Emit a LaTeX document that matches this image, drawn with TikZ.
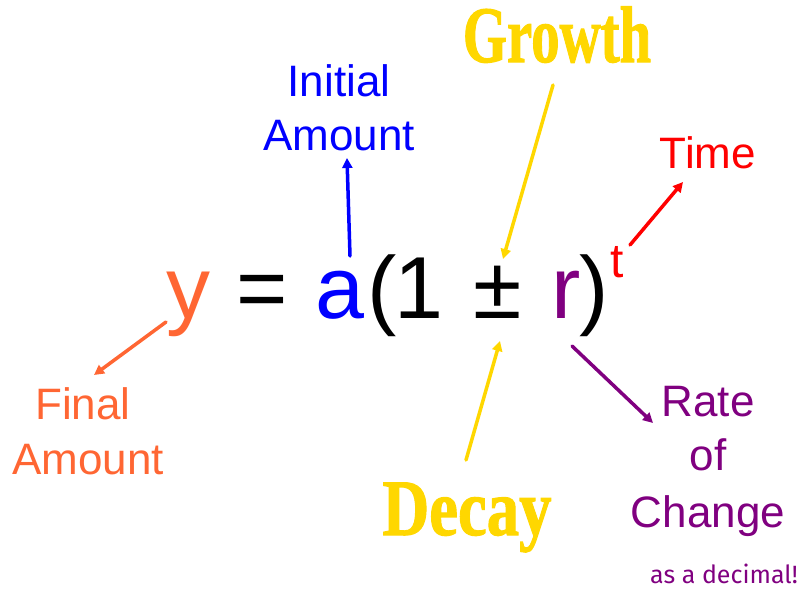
\documentclass[tikz,border=0pt]{standalone}
\usepackage{fontspec}
\setmainfont{Liberation Sans}
\newfontfamily\heavyserif[FakeBold=1.5]{Liberation Serif}
\newfontfamily\handfont{Fira Sans}
\usetikzlibrary{arrows.meta}
\definecolor{cOrange}{RGB}{255,102,51}
\definecolor{cBlue}{RGB}{0,0,255}
\definecolor{cRed}{RGB}{255,0,0}
\definecolor{cPurple}{RGB}{128,0,128}
\definecolor{cGold}{RGB}{255,215,0}
\tikzset{
  eq/.style={inner sep=0pt, anchor=base, font=\fontsize{88}{90}\selectfont},
  lbl/.style={inner sep=0pt, anchor=base, font=\fontsize{44}{50}\selectfont},
  big/.style={inner sep=0pt, anchor=base, font=\fontsize{80}{82}\selectfont\heavyserif\bfseries, text=cGold},
  arr/.style={line width=3.5pt, line cap=round, -{Triangle[length=10pt,width=10pt]}}
}
\begin{document}
\begin{tikzpicture}[x=1pt,y=-1pt]
\useasboundingbox (0,0) rectangle (802,589);
% equation
\node[eq, text=cOrange] (y) at (188,318) {y};
\node[eq] (eqs) at (262,318) {=};
\node[eq, text=cBlue] (a) at (340,318) {a};
\node[eq] (lp) at (382,318) {(};
\node[eq] (one) at (419,318) {1};
\node[eq] (pm) at (498,318) {±};
\node[eq, text=cPurple] (r) at (566,318) {r};
\node[eq] (rp) at (594,318) {)};
\node[inner sep=0pt, anchor=base, font=\fontsize{48}{50}\selectfont, text=cRed] (t) at (617,277) {t};
% labels
\node[lbl, text=cBlue] (init1) at (339,96) {Initial};
\node[lbl, text=cBlue] (init2) at (339,150) {Amount};
\node[lbl, text=cRed] (time) at (708,168) {Time};
\node[lbl, text=cOrange] (fin1) at (83,419) {Final};
\node[lbl, text=cOrange] (fin2) at (88,474) {Amount};
\node[lbl, text=cPurple] (rate1) at (708,416) {Rate};
\node[lbl, text=cPurple] (rate2) at (708,470) {of};
\node[lbl, text=cPurple] (rate3) at (708,527) {Change};
\node[inner sep=0pt, anchor=base, font=\fontsize{25}{27}\selectfont\handfont, text=cPurple] (dec) at (724,583) {as a decimal!};
\node[big] (growth) at (557,62) {\scalebox{0.71}[1]{Growth}};
\node[big] (decay) at (467,535) {\scalebox{0.81}[1]{Decay}};
% arrow ends
\coordinate (aS) at (350,256); \coordinate (aE) at (347,158);
\coordinate (gS) at (553,85);  \coordinate (gE) at (503,259);
\coordinate (tS) at (630,245); \coordinate (tE) at (683,182);
\coordinate (yS) at (166,322); \coordinate (yE) at (94,375);
\coordinate (dS) at (466,460); \coordinate (dE) at (500,341);
\coordinate (rS) at (572,346); \coordinate (rE) at (653,423);
\draw[arr, cBlue] (aS) -- (aE);
\draw[arr, cGold] (gS) -- (gE);
\draw[arr, cRed] (tS) -- (tE);
\draw[arr, cOrange] (yS) -- (yE);
\draw[arr, cGold] (dS) -- (dE);
\draw[arr, cPurple] (rS) -- (rE);
\end{tikzpicture}
\end{document}
